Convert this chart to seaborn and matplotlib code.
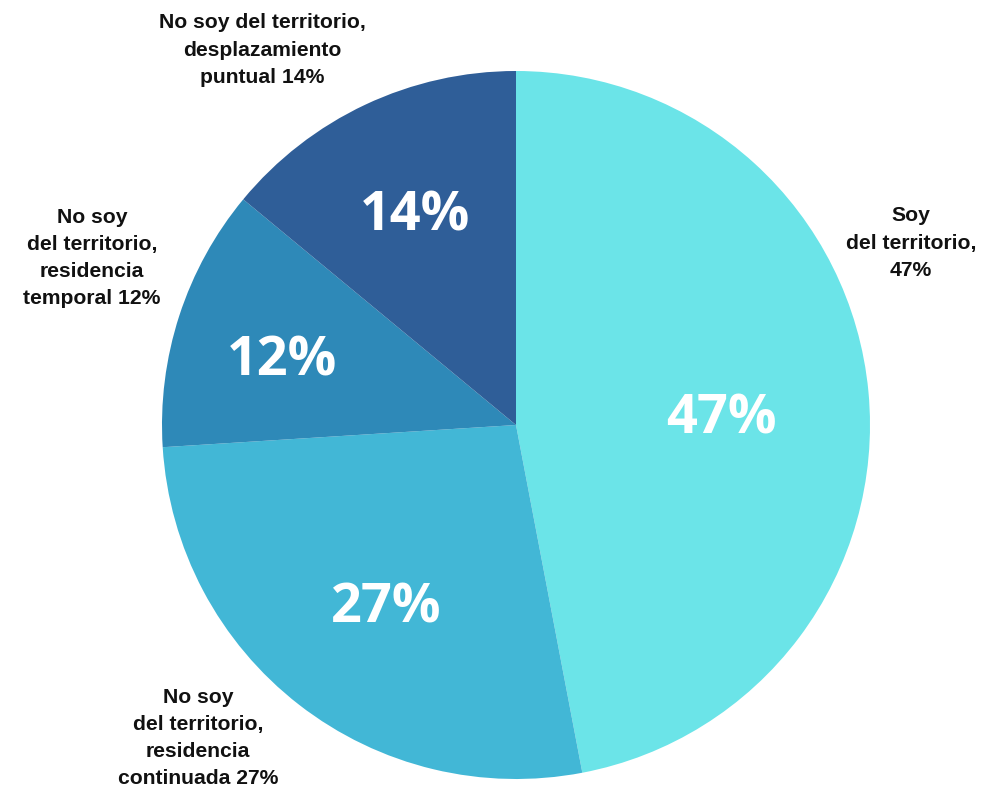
import matplotlib
matplotlib.use("Agg")
import matplotlib.pyplot as plt
import seaborn as sns
import numpy as np

sns.set_theme(style="white")

# data
shares = [47, 27, 12, 14]
labels = [
    "Soy\ndel territorio,\n47%",
    "No soy\ndel territorio,\nresidencia\ncontinuada 27%",
    "No soy\ndel territorio,\nresidencia\ntemporal 12%",
    "No soy del territorio,\ndesplazamiento\npuntual 14%",
]
colors = ["#6be4e8", "#42b7d6", "#2e89b8", "#2f5e98"]

# where the outer labels sit (pixel-like axes units)
label_pos = [(911, 551), (198, 56), (92, 536), (262, 744)]
# radial fraction / angle nudge for the inner percentages
pct_r = [0.58, 0.62, 0.69, 0.67]
pct_shift = [-2.1, 1.5, 1.3, 0.0]

cx, cy, rad = 516, 369, 354

fig = plt.figure(figsize=(10.02, 7.94), dpi=100)
ax = fig.add_axes([0, 0, 1, 1])

wedges, texts, autotexts = ax.pie(
    shares,
    colors=colors,
    startangle=90,
    counterclock=False,
    center=(cx, cy),
    radius=rad,
    autopct="%d%%",
    pctdistance=0.63,
    wedgeprops=dict(linewidth=0),
    textprops=dict(color="white", fontsize=39, fontweight="bold",
                   fontstretch="normal", family="Open Sans"),
)

for w, t, r, s in zip(wedges, autotexts, pct_r, pct_shift):
    ang = np.deg2rad((w.theta1 + w.theta2) / 2 + s)
    t.set_position((cx + r * rad * np.cos(ang), cy + r * rad * np.sin(ang)))
    t.set_va("center_baseline")

for (x, y), lab in zip(label_pos, labels):
    ax.text(x, y, lab, ha="center", va="center", fontsize=15.2, fontweight="bold",
            family="Liberation Sans", color="#111111", linespacing=1.55)

ax.set_xlim(0, 1002)
ax.set_ylim(0, 794)
ax.set_aspect("equal")
ax.axis("off")

fig.savefig("out.png", dpi=100, facecolor="white")
